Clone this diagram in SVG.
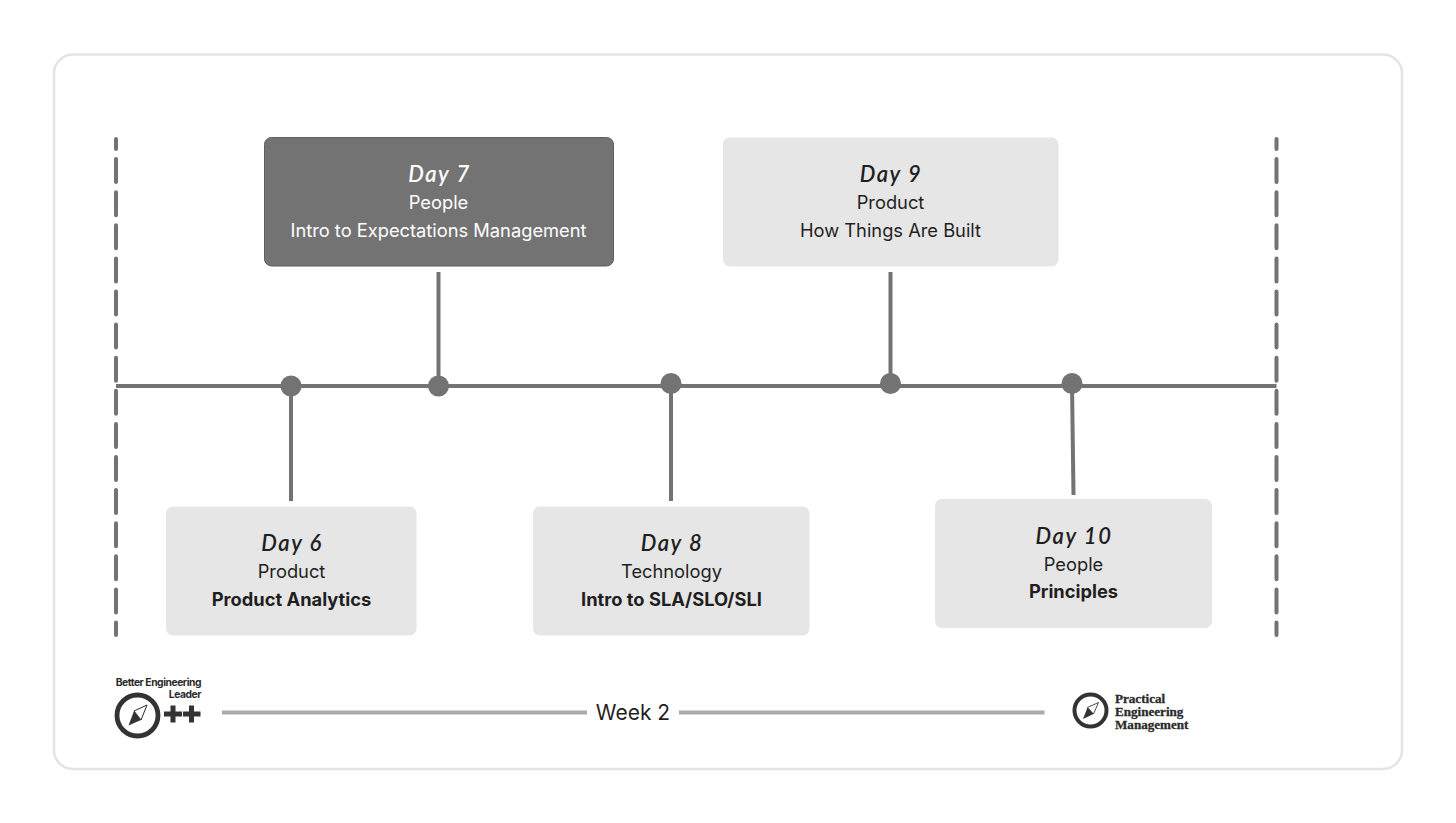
<svg xmlns="http://www.w3.org/2000/svg" width="1456" height="823" viewBox="0 0 1456 823">
<defs>
<style>
.t{font-family:Inter,"Liberation Sans",sans-serif;font-size:18.3px;text-anchor:middle;fill:#1f1f1f}
.b{font-weight:700}
.d{font-family:Lato,"Noto Sans",sans-serif;font-style:italic;font-weight:600;font-size:22px;letter-spacing:1.6px;text-anchor:middle;fill:#1f1f1f}
.w{fill:#fff}
.box{fill:#e6e6e6}
.dark{fill:#737373;stroke:#5f5f5f;stroke-width:1}
.ln{stroke:#737373;stroke-width:4;fill:none}
.dash{stroke:#737373;stroke-width:4;fill:none;stroke-dasharray:23 10.100;stroke-linecap:round}
.dot{fill:#737373}
.wk{stroke:#ababab;stroke-width:4;fill:none}
.logo{fill:none;stroke:#333}
.lt{font-family:Inter,"Liberation Sans",sans-serif;font-size:10.300px;font-weight:700;fill:#2a2a2a;text-anchor:end;letter-spacing:-.45px}
.ls{font-family:"Liberation Serif","DejaVu Serif",serif;font-size:13.100px;font-weight:700;fill:#2a2a2a;stroke:#2a2a2a;stroke-width:.3}
</style>
</defs>
<rect width="1456" height="823" fill="#fff"/>
<rect id="frame" x="54" y="54.500" width="1348" height="714.500" rx="19" fill="#fff" stroke="#e4e4e4" stroke-width="2.500"/>
<g id="connectors">
<path class="dash" d="M116 139V635" stroke-dashoffset="13"/>
<path class="dash" d="M1276.500 139V635" stroke-dashoffset="13"/>
<path class="ln" d="M116 386H1276.500"/>
<path class="ln" d="M291 386V501"/>
<path class="ln" d="M438.500 272V386"/>
<path class="ln" d="M671 384V501"/>
<path class="ln" d="M890.500 272V384"/>
<path class="ln" d="M1072 384L1073.500 495"/>
<circle class="dot" cx="291" cy="386" r="10.500"/>
<circle class="dot" cx="438.500" cy="386" r="10.500"/>
<circle class="dot" cx="671" cy="383.500" r="10.500"/>
<circle class="dot" cx="890.500" cy="383.500" r="10.500"/>
<circle class="dot" cx="1072" cy="383.500" r="10.500"/>
</g>
<g id="day7">
<rect class="dark" x="264.500" y="137.500" width="349" height="128.500" rx="7"/>
<text class="d w" x="439.500" y="182">Day 7</text>
<text class="t w" x="438.500" y="209">People</text>
<text class="t w" x="438.500" y="237">Intro to Expectations Management</text>
</g>
<g id="day9">
<rect class="box" x="723" y="137.500" width="335.500" height="129" rx="7"/>
<text class="d" x="891" y="182">Day 9</text>
<text class="t" x="890.500" y="209">Product</text>
<text class="t" x="890.500" y="237">How Things Are Built</text>
</g>
<g id="day6">
<rect class="box" x="166" y="506.500" width="250.500" height="129" rx="7"/>
<text class="d" x="292" y="551">Day 6</text>
<text class="t" x="291.500" y="578">Product</text>
<text class="t b" x="291.500" y="606">Product Analytics</text>
</g>
<g id="day8">
<rect class="box" x="533" y="506.500" width="276.500" height="129" rx="7"/>
<text class="d" x="672" y="551">Day 8</text>
<text class="t" x="671.500" y="578">Technology</text>
<text class="t b" x="671.500" y="606">Intro to SLA/SLO/SLI</text>
</g>
<g id="day10">
<rect class="box" x="935" y="499" width="277" height="129" rx="7"/>
<text class="d" x="1074" y="543.500">Day 10</text>
<text class="t" x="1073.500" y="570.500">People</text>
<text class="t b" x="1073.500" y="598">Principles</text>
</g>
<g id="week">
<path class="wk" d="M222 712.500H587M679 712.500H1044.500"/>
<text x="633" y="720" font-family="Inter,'Liberation Sans',sans-serif" font-size="21" text-anchor="middle" fill="#1f1f1f">Week 2</text>
</g>
<g id="logo-left">
<text class="lt" x="201" y="686">Better Engineering</text>
<text class="lt" x="201" y="697.500">Leader</text>
<circle class="logo" cx="137.500" cy="715.500" r="20.500" stroke-width="4.800"/>
<path d="M147 705L141 720L128.500 725.500L134 711Z" fill="#333"/>
<path d="M147 705L134 711L141 720Z" fill="#fff" stroke="#333" stroke-width="1"/>
<path d="M164 714H182M173 705.500V722.500M183 714H200.500M191.500 705.500V722.500" stroke="#333" stroke-width="5" fill="none"/>
</g>
<g id="logo-right">
<circle class="logo" cx="1090.500" cy="710.500" r="16" stroke-width="4"/>
<path d="M1098.500 702.500L1093.500 714L1083 719L1087.500 707.500Z" fill="#333"/>
<path d="M1098.500 702.500L1087.500 707.500L1093.500 714Z" fill="#fff" stroke="#333" stroke-width=".8"/>
<text class="ls" x="1115" y="703">Practical</text>
<text class="ls" x="1115" y="716">Engineering</text>
<text class="ls" x="1115" y="728.500">Management</text>
</g>
</svg>
